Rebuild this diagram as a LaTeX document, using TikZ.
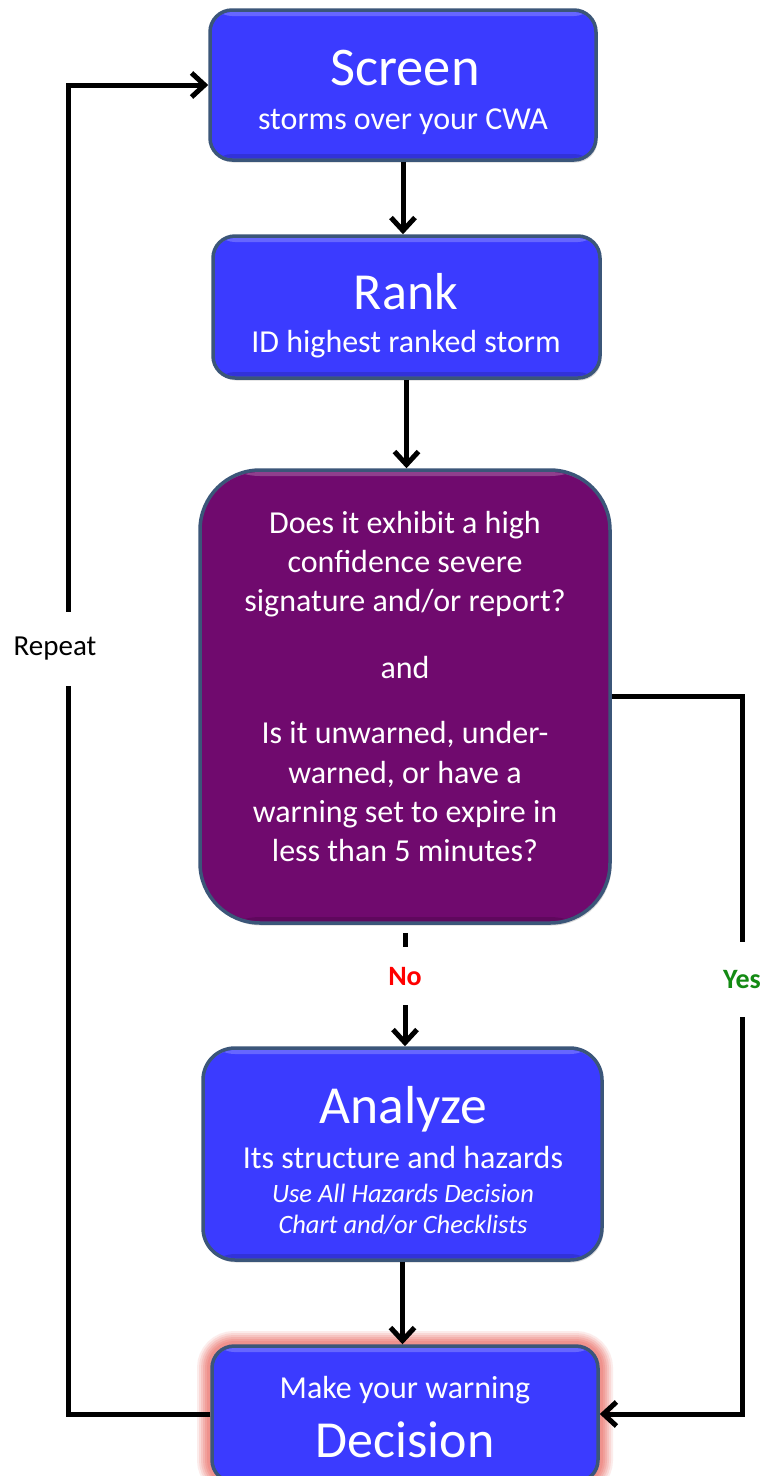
\documentclass[tikz,border=0pt]{standalone}
\usepackage{fontspec}
\setmainfont{Carlito}
\usetikzlibrary{arrows.meta,shadows}
\definecolor{boxblue}{HTML}{3B3BFF}
\definecolor{boxpurple}{HTML}{700A6E}
\definecolor{edgeblue}{HTML}{3B5679}
\definecolor{yesgreen}{HTML}{138A13}
\definecolor{glowred}{HTML}{EE7E78}
\begin{document}
\begin{tikzpicture}[x=1pt,y=-1pt,
  box/.style={rectangle, draw=edgeblue, line width=3.5pt, fill=boxblue,
    rounded corners=22pt, inner sep=0pt,
    drop shadow={shadow xshift=1.5pt, shadow yshift=-2.5pt, opacity=0.3},
    path picture={
      \fill[white, opacity=0.22] ([yshift=-2pt]path picture bounding box.north west)
        rectangle ([yshift=-6pt]path picture bounding box.north east);
      \fill[black, opacity=0.15] ([yshift=2pt]path picture bounding box.south west)
        rectangle ([yshift=6pt]path picture bounding box.south east);}},
  glow/.style={preaction={draw=glowred, line width=30pt, opacity=0.14},
    preaction={draw=glowred, line width=26pt, opacity=0.18},
    preaction={draw=glowred, line width=22pt, opacity=0.22},
    preaction={draw=glowred, line width=18pt, opacity=0.27},
    preaction={draw=glowred, line width=14pt, opacity=0.33},
    preaction={draw=glowred, line width=10pt, opacity=0.4}},
  ttl/.style={text=white, font=\fontsize{52}{60}\selectfont, anchor=base, inner sep=0pt},
  sub/.style={text=white, font=\fontsize{32}{38}\selectfont, anchor=base, inner sep=0pt},
  qtext/.style={text=white, font=\fontsize{32}{38}\selectfont, anchor=base, inner sep=0pt},
  itl/.style={text=white, font=\fontsize{26.5}{31}\selectfont\itshape, anchor=base, inner sep=0pt},
  conn/.style={line width=5pt, -{Straight Barb[length=13pt,width=24pt]}},
  lbl/.style={fill=white, inner sep=0pt, font=\fontsize{29}{32}\selectfont},
  blbl/.style={lbl, font=\fontsize{28}{32}\selectfont\bfseries},
]
\clip (0,0) rectangle (768,1476);
\fill[white] (0,0) rectangle (768,1476);

% boxes
\node[box, minimum width=386pt, minimum height=150pt] (screen) at (403,85) {};
\node[box, minimum width=387pt, minimum height=142pt] (rank) at (406.5,307) {};
\node[box, fill=boxpurple, rounded corners=60pt, minimum width=410pt, minimum height=453pt] (question) at (405,696.5) {};
\node[box, rounded corners=32pt, minimum width=399pt, minimum height=212pt] (analyze) at (402.5,1154) {};
\node[box, glow, minimum width=386pt, minimum height=136pt] (decision) at (405,1414) {};

% texts
\node[ttl, font=\fontsize{54.5}{60}\selectfont] (screen-title) at (405,85) {Screen};
\node[sub] (screen-sub) at (403,129) {storms over your CWA};
\node[ttl] (rank-title) at (406,309) {Rank};
\node[sub] (rank-sub) at (406,352) {ID highest ranked storm};
\foreach \t/\yy [count=\i] in {{Does it exhibit a high}/533, {confidence severe}/572,
    {signature and/or report?}/611, {and}/678, {Is it unwarned, under-}/743,
    {warned, or have a}/783, {warning set to expire in}/822, {less than 5 minutes?}/861}
  \node[qtext] (q\i) at (405,\yy) {\t};
\node[ttl, font=\fontsize{53.5}{60}\selectfont] (analyze-title) at (403,1123) {Analyze};
\node[sub] (analyze-sub) at (403,1168) {Its structure and hazards};
\node[itl] (analyze-i1) at (403,1202) {Use All Hazards Decision};
\node[itl] (analyze-i2) at (403,1233) {Chart and/or Checklists};
\node[sub] (decision-sub) at (405,1398) {Make your warning};
\node[ttl] (decision-title) at (405,1457) {Decision};

% helper coordinates
\coordinate (yesx) at (742,0);
\coordinate (repx) at (68,0);

% connectors
\draw[conn] (screen.south) -- (screen.south |- rank.north);
\draw[conn] (rank.south) -- (rank.south |- question.north);
\draw[conn] ([yshift=-8pt]question.south) --
  node[blbl, pos=0.385, minimum height=58pt, text=red] (no) {No}
  (question.south |- analyze.north);
\draw[conn] (analyze.south) -- (analyze.south |- decision.north);
\draw[conn] (question.east) -- (question.east -| yesx) --
  node[blbl, pos=0.395, minimum height=75pt, text=yesgreen] (yes) {Yes}
  (decision.east -| yesx) -- (decision.east);
\draw[conn] (decision.west) -- (decision.west -| repx) --
  node[lbl, pos=0.5756, minimum height=74pt, xshift=-13pt] (repeat) {Repeat}
  (screen.west -| repx) -- (screen.west);
\end{tikzpicture}
\end{document}
